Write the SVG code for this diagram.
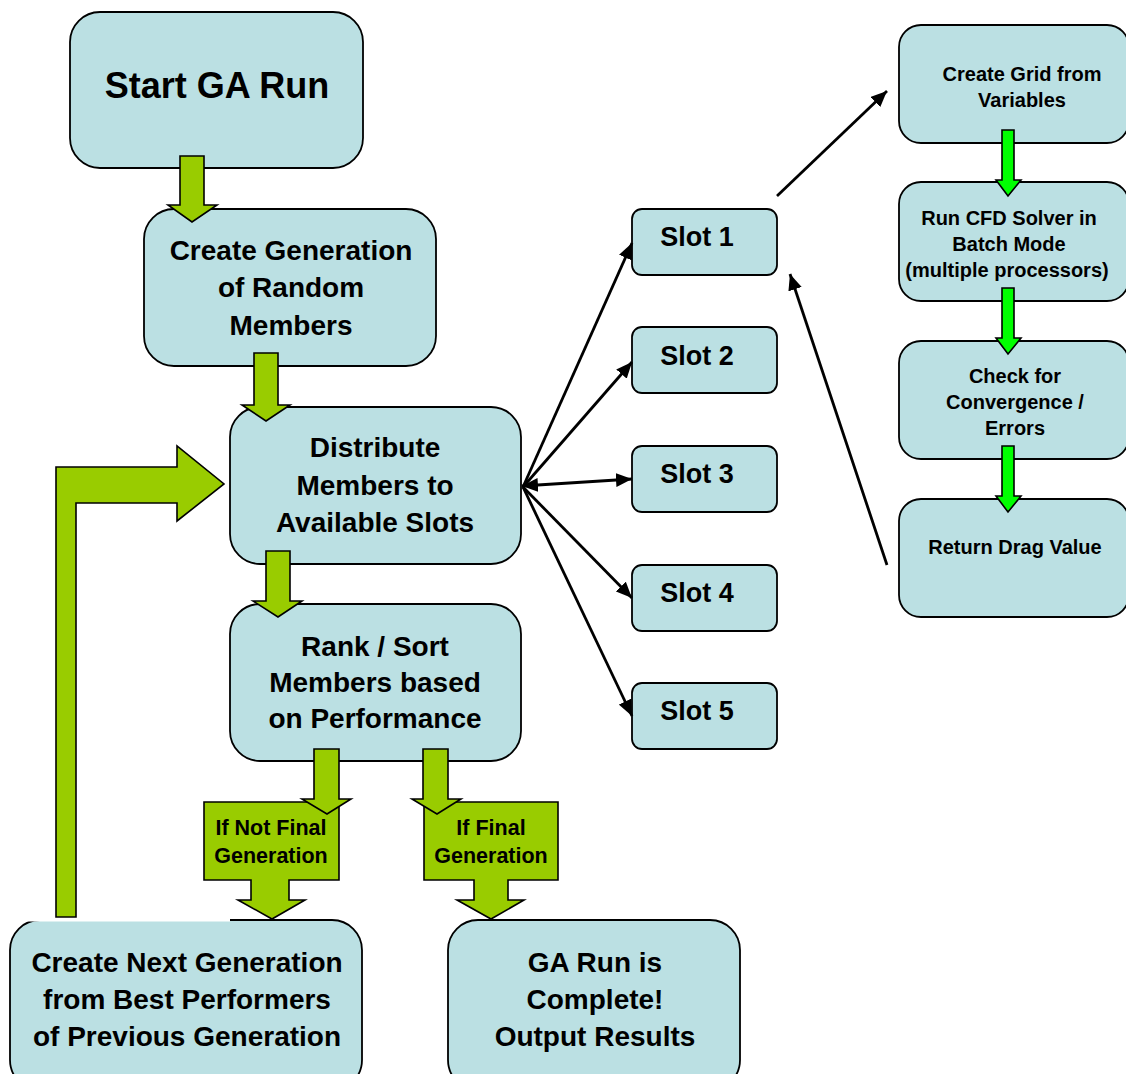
<svg xmlns="http://www.w3.org/2000/svg" width="1126" height="1074" viewBox="0 0 1126 1074">
<style>
.box{fill:#BBE0E3;stroke:#000;stroke-width:1.8}
.t{font-family:"Liberation Sans",Arial,sans-serif;font-weight:bold;fill:#000;text-anchor:middle}
.big{font-size:36px}
.main{font-size:28px}
.slot{font-size:27px}
.small{font-size:20px}
.dec{font-size:21.5px}
.ga{fill:#99CC00;stroke:#000;stroke-width:1.6}
.gb{fill:#00FF00;stroke:#000;stroke-width:1.6}
.con{stroke:#000;stroke-width:2.8;fill:none}
</style>
<defs>
<marker id="ah" markerUnits="userSpaceOnUse" markerWidth="18" markerHeight="14" refX="16" refY="7" orient="auto-start-reverse">
<path d="M0,0 L16,7 L0,14 Z" fill="#000"/>
</marker>
</defs>

<g id="n-start"><rect class="box" x="70" y="12" width="293" height="156" rx="30"/><text class="t big" x="217" y="98">Start GA Run</text></g>
<g id="n-create"><rect class="box" x="144" y="209" width="292" height="157" rx="30"/><text class="t main" x="291" y="260">Create Generation</text><text class="t main" x="291" y="297">of Random</text><text class="t main" x="291" y="335">Members</text></g>
<g id="n-distribute"><rect class="box" x="230" y="407" width="291" height="157" rx="30"/><text class="t main" x="375" y="457">Distribute</text><text class="t main" x="375" y="495">Members to</text><text class="t main" x="375" y="532">Available Slots</text></g>
<g id="n-rank"><rect class="box" x="230" y="604" width="291" height="157" rx="30"/><text class="t main" x="375" y="656">Rank / Sort</text><text class="t main" x="375" y="692">Members based</text><text class="t main" x="375" y="728">on Performance</text></g>
<g id="n-next"><rect class="box" x="10" y="920" width="352" height="170" rx="30"/><rect x="0" y="898" width="230" height="23.5" fill="#fff"/><text class="t main" x="187" y="972">Create Next Generation</text><text class="t main" x="187" y="1009">from Best Performers</text><text class="t main" x="187" y="1046">of Previous Generation</text></g>
<g id="n-complete"><rect class="box" x="448" y="920" width="292" height="170" rx="30"/><text class="t main" x="595" y="972">GA Run is</text><text class="t main" x="595" y="1009">Complete!</text><text class="t main" x="595" y="1046">Output Results</text></g>

<g id="n-slot1"><rect class="box" x="632" y="209" width="145" height="66" rx="10"/><text class="t slot" x="697" y="246">Slot 1</text></g>
<g id="n-slot2"><rect class="box" x="632" y="327" width="145" height="66" rx="10"/><text class="t slot" x="697" y="365">Slot 2</text></g>
<g id="n-slot3"><rect class="box" x="632" y="446" width="145" height="66" rx="10"/><text class="t slot" x="697" y="483">Slot 3</text></g>
<g id="n-slot4"><rect class="box" x="632" y="565" width="145" height="66" rx="10"/><text class="t slot" x="697" y="602">Slot 4</text></g>
<g id="n-slot5"><rect class="box" x="632" y="683" width="145" height="66" rx="10"/><text class="t slot" x="697" y="720">Slot 5</text></g>

<g id="n-grid"><rect class="box" x="899" y="25" width="230" height="118" rx="22"/><text class="t small" x="1022" y="81">Create Grid from</text><text class="t small" x="1022" y="107">Variables</text></g>
<g id="n-cfd"><rect class="box" x="899" y="182" width="230" height="119" rx="22"/><text class="t small" x="1009" y="225">Run CFD Solver in</text><text class="t small" x="1009" y="251">Batch Mode</text><text class="t small" x="1007" y="277">(multiple processors)</text></g>
<g id="n-check"><rect class="box" x="899" y="341" width="230" height="118" rx="22"/><text class="t small" x="1015" y="383">Check for</text><text class="t small" x="1015" y="409">Convergence /</text><text class="t small" x="1015" y="435">Errors</text></g>
<g id="n-drag"><rect class="box" x="899" y="499" width="230" height="118" rx="22"/><text class="t small" x="1015" y="554">Return Drag Value</text></g>

<g id="n-notfinal"><path class="ga" d="M204,802 H339 V880 H289 V900 H305 L272,919 L238,900 H251 V880 H204 Z"/><text class="t dec" x="271" y="835">If Not Final</text><text class="t dec" x="271" y="863">Generation</text></g>
<g id="n-final"><path class="ga" d="M424,802 H558 V880 H508 V900 H524 L491,919 L457,900 H474 V880 H424 Z"/><text class="t dec" x="491" y="835">If Final</text><text class="t dec" x="491" y="863">Generation</text></g>

<g id="connectors">
<path class="ga" d="M180,156 H204 V205 H217 L192,222 L168,205 H180 Z"/>
<path class="ga" d="M254,353 H278 V405 H290 L266,421 L242,405 H254 Z"/>
<path class="ga" d="M266,551 H290 V601 H302 L278,617 L253,601 H266 Z"/>
<path class="ga" d="M314,749 H339 V799 H351 L327,814 L302,799 H314 Z"/>
<path class="ga" d="M423,749 H448 V799 H461 L437,814 L412,799 H423 Z"/>
<path class="ga" d="M56,917 V467 H177 V446 L224,484 L177,521 V503 H76 V917 Z"/>
<path class="gb" d="M1002,130 H1014 V180 H1021 L1008,196 L996,180 H1002 Z"/>
<path class="gb" d="M1002,288 H1014 V338 H1021 L1008,354 L996,338 H1002 Z"/>
<path class="gb" d="M1002,446 H1014 V496 H1021 L1008,512 L996,496 H1002 Z"/>
<line class="con" x1="523" y1="487" x2="632" y2="243" marker-end="url(#ah)"/>
<line class="con" x1="523" y1="487" x2="632" y2="362" marker-end="url(#ah)"/>
<line class="con" x1="522" y1="486" x2="632" y2="479" marker-start="url(#ah)" marker-end="url(#ah)"/>
<line class="con" x1="523" y1="487" x2="632" y2="598" marker-end="url(#ah)"/>
<line class="con" x1="523" y1="487" x2="632" y2="716" marker-end="url(#ah)"/>
<line class="con" x1="777" y1="196" x2="887" y2="91" marker-end="url(#ah)"/>
<line class="con" x1="887" y1="565" x2="790" y2="274" marker-end="url(#ah)"/>
</g>
</svg>
